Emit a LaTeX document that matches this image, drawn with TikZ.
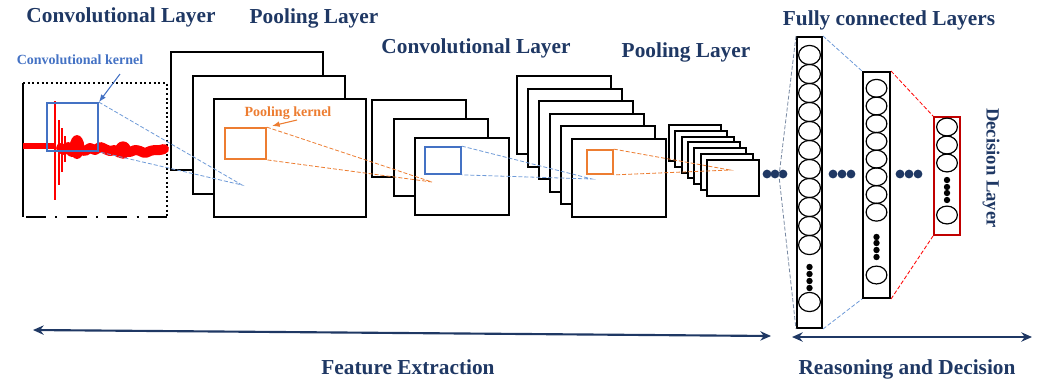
\documentclass[tikz,border=0pt]{standalone}
\usepackage{fontspec}
\setmainfont{Liberation Serif}
\usepackage{xcolor}
\usepackage{tikz}
\usetikzlibrary{arrows.meta}

\definecolor{navy}{RGB}{31,56,100}
\definecolor{kblue}{RGB}{68,114,196}
\definecolor{korange}{RGB}{237,125,49}
\definecolor{lblue}{RGB}{111,155,216}
\definecolor{dred}{RGB}{192,0,0}

\begin{document}
\begin{tikzpicture}[
  x=0.75pt, y=-0.75pt,
  title/.style={font=\fontsize{16}{18}\selectfont\bfseries, text=navy, inner sep=0pt},
  klabel/.style={font=\fontsize{10.5}{12}\selectfont\bfseries, inner sep=0pt},
  fmap/.style={draw=black, fill=white, line width=1.5pt},
  kernel/.style={rectangle, draw, line width=1.3pt, inner sep=0pt},
  col/.style={rectangle, draw=black, line width=1.5pt, inner sep=0pt},
  neuron/.style={draw=black, line width=0.9pt},
  guide/.style={dash pattern=on 3pt off 1.5pt, line width=0.6pt},
  pointer/.style={-{Latex[length=2mm]}, line width=0.8pt},
  span/.style={{Stealth[length=8pt,width=7pt]}-{Stealth[length=8pt,width=7pt]}, navy, line width=1.6pt}
]
\useasboundingbox (0,0) rectangle (1038,380);

% input signal
\draw[line width=1.5pt] (23,83) -- (23,217);
\draw[line width=1.5pt, dotted] (23,83) -- (167,83) -- (167,217);
\draw[line width=1.5pt, dash pattern=on 15pt off 7pt on 1.5pt off 7pt] (26,217) -- (167,217);
\draw[red, line width=5pt] (23,146) -- (56,146);
\draw[red, line width=2.2pt] (55,101) -- (55,200);
\draw[red, line width=1.8pt] (59,120) -- (59,185);
\draw[red, line width=1.5pt] (62,128) -- (62,172);
\draw[red, line width=1.5pt] (65,136) -- (65,162);
\draw[red, line width=7.5pt, line join=round, line cap=round] plot[smooth] coordinates {(61,148) (64,150) (68,147) (72,152) (77,147) (80,149) (85,151) (90,148) (95,150) (100,147) (105,149) (110,151) (115,150) (120,153) (125,151) (130,152) (135,150) (140,151) (145,153) (150,151) (155,150) (160,150) (164,149)};
\fill[red] (77,147) ellipse[x radius=5.5pt, y radius=9pt];
\fill[red] (123,150) ellipse[x radius=6pt, y radius=6.5pt];

% feature maps
\foreach \i in {0,1,2}
  \draw[fmap] (171+21.5*\i,52+23.5*\i) rectangle ++(152,118);
\foreach \i in {0,1,2}
  \draw[fmap] (372+21.5*\i,100+19*\i) rectangle ++(94,77);
\foreach \i in {0,...,5}
  \draw[fmap] (517+11*\i,76+12.6*\i) rectangle ++(94,78);
\foreach \i in {0,...,6}
  \draw[fmap] (669+6.3*\i,125+5.8*\i) rectangle ++(52,36);

% kernels
\node[kernel, draw=kblue, minimum width=38.25pt, minimum height=36pt] (k1) at (72.5,127) {};
\node[kernel, draw=korange, minimum width=30.75pt, minimum height=23.25pt] (k2) at (245.5,143.5) {};
\node[kernel, draw=kblue, minimum width=27pt, minimum height=20.25pt] (k3) at (443,160.5) {};
\node[kernel, draw=korange, minimum width=19.5pt, minimum height=18pt] (k4) at (600,162) {};

\coordinate (t1) at (242,185);
\coordinate (t2) at (432,182);
\coordinate (t3) at (592,179);
\coordinate (t4) at (730,170);
\draw[guide, lblue] (k1.north east) -- (t1) -- (k1.south east);
\draw[guide, korange] (k2.north east) -- (t2) -- (k2.south east);
\draw[guide, lblue] (k3.north east) -- (t3) -- (k3.south east);
\draw[guide, korange] (k4.north east) -- (t4) -- (k4.south east);

% fully connected part
\node[col, minimum width=18.75pt, minimum height=218.25pt] (fc1) at (809.5,182.5) {};
\node[col, minimum width=20.25pt, minimum height=169.5pt] (fc2) at (876.5,185) {};
\node[col, draw=dred, minimum width=19.5pt, minimum height=88.5pt] (dec) at (947,176) {};

\foreach \i in {0,...,10}
  \draw[neuron] (809.5,55+19*\i) ellipse[x radius=8.2pt, y radius=7.2pt];
\draw[neuron] (809.5,302) ellipse[x radius=8.2pt, y radius=7.2pt];
\foreach \y in {267,274,281,288}
  \fill (809.5,\y) circle[radius=2.4pt];

\foreach \i in {0,...,7}
  \draw[neuron] (876.5,88.3+17.7*\i) ellipse[x radius=7.8pt, y radius=6.7pt];
\draw[neuron] (876.5,275) ellipse[x radius=7.8pt, y radius=6.7pt];
\foreach \y in {237,243,250,257}
  \fill (876.5,\y) circle[radius=2.4pt];

\foreach \y in {127,145,163,215}
  \draw[neuron] (947,\y) ellipse[x radius=7.8pt, y radius=6.7pt];
\foreach \y in {180,187,193,200}
  \fill (947,\y) circle[radius=2.4pt];

\foreach \x in {767,775,783,833,842,851,900,909,918}
  \fill[navy] (\x,174) circle[radius=3.3pt];

\coordinate (fcin) at (779,176);
\draw[guide, gray!60!lblue] (fc1.north west) -- (fcin) -- (fc1.south west);
\draw[guide, lblue] (fc1.north east) -- (fc2.north west);
\draw[guide, lblue] (fc1.south east) -- (fc2.south west);
\draw[guide, red] (fc2.north east) -- (dec.north west);
\draw[guide, red] (fc2.south east) -- (dec.south west);

% labels
\node[title] (convA) at (121,17) {Convolutional Layer};
\node[title] (poolA) at (314,18) {Pooling Layer};
\node[title] (convB) at (476,48) {Convolutional Layer};
\node[title] (poolB) at (686,52) {Pooling Layer};
\node[title] (fcl) at (889,20) {Fully connected Layers};
\node[title, rotate=-90, font=\fontsize{14}{16}\selectfont\bfseries] (decl) at (991,168) {Decision Layer};
\node[klabel, text=kblue] (klab1) at (80,60) {Convolutional kernel};
\node[klabel, text=korange] (klab2) at (288,113) {Pooling kernel};

\coordinate (ka1) at (120,74);
\coordinate (ka2) at (297,120);
\draw[pointer, kblue] (ka1) -- (k1.north east);
\draw[pointer, korange, shorten >=4pt] (ka2) -- (k2.north east);

% stages
\coordinate (fe-l) at (33,330);
\coordinate (fe-r) at (771,336);
\coordinate (rd-l) at (792,337);
\coordinate (rd-r) at (1032,337);
\draw[span] (fe-l) -- (fe-r);
\draw[span] (rd-l) -- (rd-r);
\node[title] (fe) at (408,367) {Feature Extraction};
\node[title] (rd) at (907,369) {Reasoning and Decision};
\end{tikzpicture}
\end{document}
